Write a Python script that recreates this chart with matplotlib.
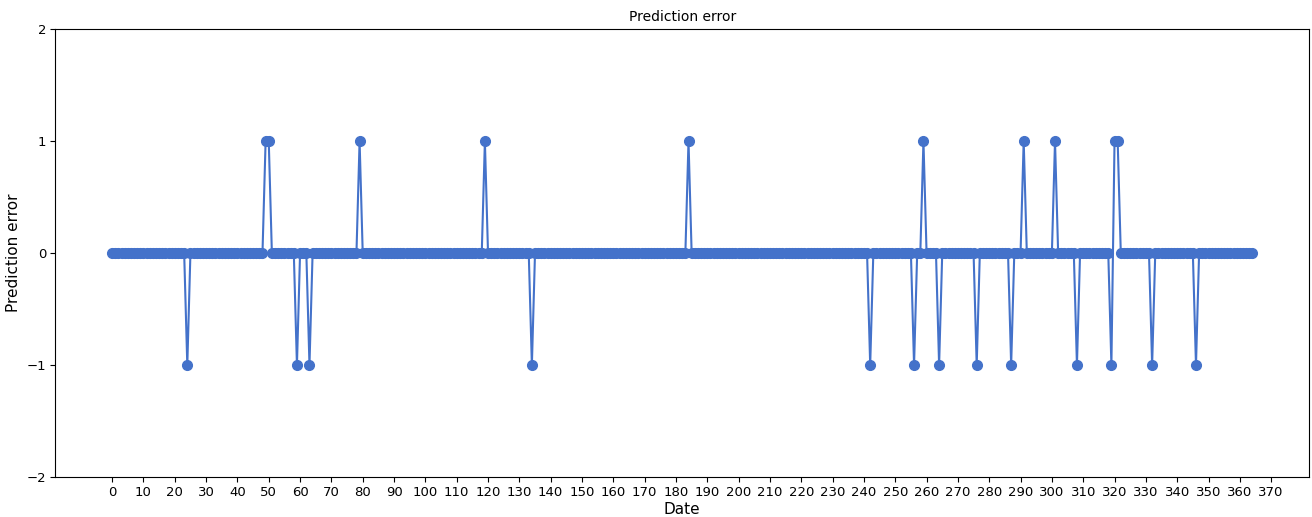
import matplotlib
matplotlib.use("Agg")
import matplotlib.pyplot as plt
import numpy as np

n_days = 365
plus_one_days = [49, 50, 79, 119, 184, 259, 291, 301, 320, 321]
minus_one_days = [24, 59, 63, 134, 242, 256, 264, 276, 287, 308, 319, 332, 346]

errors = np.zeros(n_days)
errors[plus_one_days] = 1
errors[minus_one_days] = -1
days = np.arange(n_days)

xticks = list(range(0, 371, 10))
yticks = [-2, -1, 0, 1, 2]

fig = plt.figure(figsize=(13.12, 5.17), dpi=100)
ax = fig.add_axes([0.042, 0.077, 0.956, 0.867])
ax.plot(days, errors, color="#4472CA", marker="o", markersize=7, linewidth=1.5)
ax.set_xticks(xticks)
ax.set_yticks(yticks)
ax.set_ylim(-2, 2)
ax.tick_params(labelsize=9.5, length=3.5, pad=3)
ax.set_xlabel("Date", fontsize=11, labelpad=2)
ax.set_ylabel("Prediction error", fontsize=11, labelpad=4)
ax.set_title("Prediction error", fontsize=10)
fig.savefig("out.png", dpi=100)
